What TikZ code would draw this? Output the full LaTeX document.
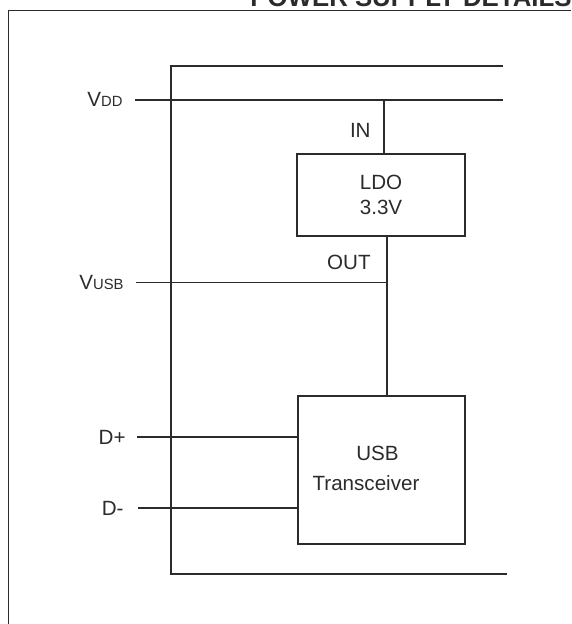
\documentclass[tikz,border=0pt]{standalone}
\usepackage{fontspec}
\setmainfont{Liberation Sans}
\usetikzlibrary{positioning}
\definecolor{ink}{HTML}{2B2B2B}
\newcommand{\smcap}[1]{{\fontsize{7.4pt}{8pt}\selectfont #1}}
\begin{document}
\begin{tikzpicture}[
            x=0.5pt, y=-0.5pt,
            blk/.style={draw=ink,line width=0.6pt,rectangle,minimum width=84pt,inner sep=0pt,align=center,text=ink},
            pinlbl/.style={inner sep=0pt,text=ink},
            w/.style={draw=ink,line width=0.6pt},
            font=\fontsize{10.3pt}{12.5pt}\selectfont
        ]

        \tikzset{
            node distance=6pt,
        }

        \useasboundingbox (0,0) rectangle (571,624);

        % title, cut off by the page edge
        \node[anchor=base west,inner sep=0pt,text=ink,font=\bfseries\fontsize{12.9pt}{15pt}\selectfont] (title) at (250,7) {POWER SUPPLY DETAILS};

        % frames
        \draw[w] (571,10.5) -- (8.5,10.5) -- (8.5,624);
        \draw[w] (503,66) -- (171,66) -- (171,574) -- (507,574);

        % pin ends
        \coordinate (vddin) at (135,100);
        \coordinate (vddend) at (503,100);
        \coordinate (vusbin) at (136,282.5);
        \coordinate (dpin) at (137,437);
        \coordinate (dmin) at (138,508);

        \node[pinlbl,left=of vddin,yshift=0.5pt] (vdd) {V\smcap{DD}};
        \node[pinlbl,left=of vusbin] (vusb) {V\smcap{USB}};
        \node[pinlbl,left=of dpin,xshift=0.5pt] (dp) {D+};
        \node[pinlbl,left=of dmin,xshift=-1pt] (dm) {D-};

        \node[blk,minimum height=41pt,text depth=0pt,font=\fontsize{10.3pt}{12.6pt}\selectfont] (ldo) at (381,195) {LDO\\3.3V};
        \node[blk,minimum width=83.5pt,minimum height=74pt] (usb) at (381.5,470) {};
        \node[pinlbl] (usbtxt) at (377.5,453) {USB};
        \node[pinlbl] (trxtxt) at (366,483) {Transceiver};

        \coordinate (ldoin) at ([xshift=1.5pt]ldo.north);
        \coordinate (ldoout) at ([xshift=3pt]ldo.south);
        \node[pinlbl,anchor=east] (inlbl) at (371,130.5) {IN};
        \node[pinlbl,anchor=east] (outlbl) at (371,262) {OUT};

        \draw[w]
            (vddin) -- (vddend)
            (ldoin) -- (ldoin |- vddin)
            (ldoout) -- (ldoout |- usb.north)
            (vusbin) -- (vusbin -| ldoout)
            (dpin) -- (dpin -| usb.west)
            (dmin) -- (dmin -| usb.west)
        ;

\end{tikzpicture}
\end{document}
